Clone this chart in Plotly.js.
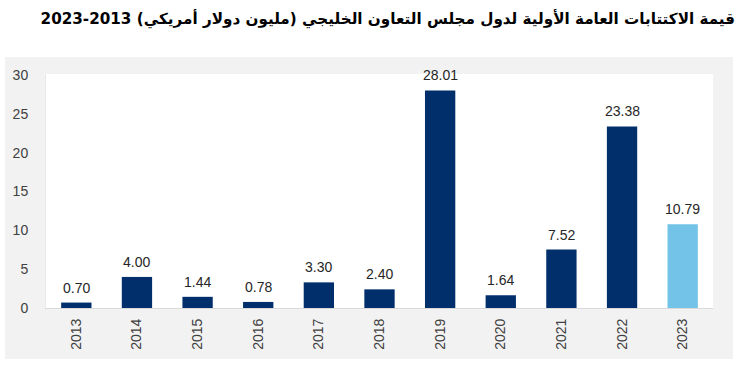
<!DOCTYPE html>
<html><head><meta charset="utf-8">
<script src="https://cdn.plot.ly/plotly-3.0.1.min.js"></script>
<style>html,body{margin:0;padding:0;background:#fff}#c{width:748px;height:383px}</style>
</head><body><div id="c"></div>
<script>
const years = ['2013','2014','2015','2016','2017','2018','2019','2020','2021','2022','2023'];
const values = [0.70, 4.00, 1.44, 0.78, 3.30, 2.40, 28.01, 1.64, 7.52, 23.38, 10.79];
const labels = ['0.70','4.00','1.44','0.78','3.30','2.40','28.01','1.64','7.52','23.38','10.79'];
const titleText = 'قيمة الاكتتابات العامة الأولية لدول مجلس التعاون الخليجي (مليون دولار أمريكي) 2013-2023';
const dark = '#002f6c', light = '#72c3e7';
const colors = years.map(y => y === '2023' ? light : dark);

const L = 46, R = 713, T = 75, B = 308;
const px = p => (p - L) / (R - L);
const py = p => (B - p) / (B - T);

const anns = years.map((y, i) => ({
  x: i, y: values[i], xref: 'x', yref: 'y', text: labels[i], showarrow: false,
  yanchor: 'bottom', yshift: 5,
  font: {family: 'Liberation Sans, Arial', size: 14, color: '#262626'}
}));

Plotly.newPlot('c', [{
  type: 'bar', x: years, y: values,
  marker: {color: colors}, hoverinfo: 'none'
}], {
  width: 748, height: 383,
  margin: {l: L, r: 748 - R, t: T, b: 383 - B, pad: 0},
  paper_bgcolor: '#ffffff', plot_bgcolor: '#ffffff',
  bargap: 0.5, showlegend: false,
  title: {text: '<b>' + titleText + '</b>', x: 735/748, xanchor: 'right', xref: 'container',
          y: 1 - 19/383, yanchor: 'middle', yref: 'container',
          font: {family: 'DejaVu Sans', size: 15.2, color: '#000'}},
  xaxis: {type: 'category', range: [-0.5, 10.5], tickangle: -90, showline: true, linecolor: '#d9d9d9', linewidth: 1,
          ticks: '', showgrid: false, zeroline: false, ticklabelstandoff: 4,
          tickfont: {family: 'Liberation Sans, Arial', size: 14, color: '#404040'}},
  yaxis: {range: [0, 30], dtick: 5, showgrid: false, zeroline: false, showline: true,
          linecolor: '#e8e8e8', ticks: '', ticklabelstandoff: 14,
          tickfont: {family: 'Liberation Sans, Arial', size: 14, color: '#404040'}},
  annotations: anns,
  shapes: [
    {type: 'rect', xref: 'paper', yref: 'paper', layer: 'below',
     x0: px(5), x1: px(733), y0: py(359), y1: py(57),
     fillcolor: '#f2f2f2', line: {width: 0}},
    {type: 'rect', xref: 'paper', yref: 'paper', layer: 'below',
     x0: 0, x1: 1, y0: 0, y1: py(74),
     fillcolor: '#ffffff', line: {width: 0}}
  ]
}, {staticPlot: true});
</script></body></html>
